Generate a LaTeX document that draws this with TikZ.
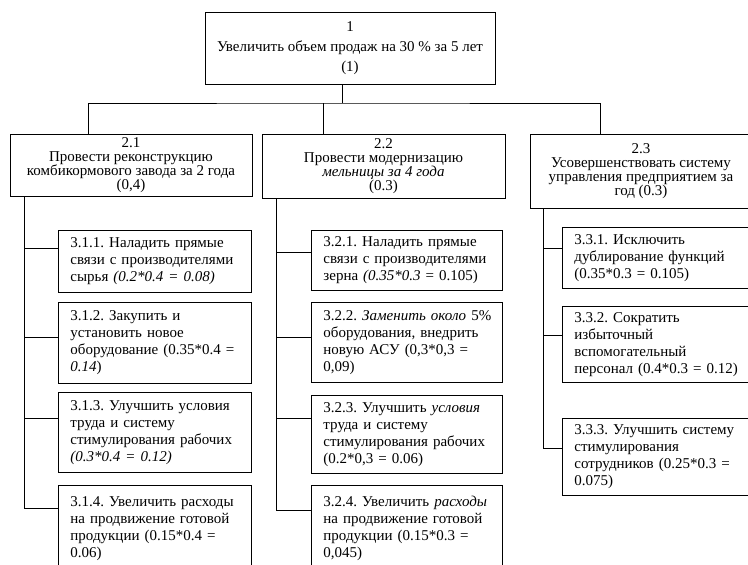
\documentclass[tikz,border=0pt]{standalone}
\usepackage{fontspec}
\setmainfont{Liberation Serif}
\usetikzlibrary{positioning}
\frenchspacing

\tikzset{
  goal/.style={draw, line width=0.9pt, align=center, inner sep=2pt,
               font=\fontsize{15}{14}\selectfont},
  task/.style={draw, line width=0.9pt, anchor=north west, align=left,
               inner xsep=0pt, inner ysep=2pt,
               execute at begin node={\leftskip=12pt},
               font=\fontsize{15}{17}\selectfont},
}

\begin{document}
\begin{tikzpicture}[x=1pt, y=-1pt, line width=0.6pt]

  \useasboundingbox (0,0) rectangle (748,565);

  % goals
  \node [goal, minimum width=290pt, minimum height=72pt, font=\fontsize{15}{20}\selectfont]
        (g1) at (350,48) {1\\Увеличить объем продаж на 30 \% за 5 лет\\(1)};

  \node [goal, minimum width=242pt, minimum height=62pt] (g21) at (131,165)
        {2.1\\Провести реконструкцию\\комбикормового завода за 2 года\\(0,4)};
  \node [goal, minimum width=243pt, minimum height=64pt] (g22) at (383.5,166)
        {2.2\\Провести модернизацию\\\textit{мельницы за 4 года}\\(0.3)};
  \node [goal, minimum width=222pt, minimum height=74pt] (g23) at (641,171)
        {2.3\\Усовершенствовать систему\\управления предприятием за\\год (0.3)};

  % tasks 3.1
  \node [task, text width=193pt, minimum height=62pt] (t311) at (58,230)
        {3.1.1. Наладить прямые\\связи с производителями\\сырья \textit{(0.2*0.4 = 0.08)}};
  \node [task, text width=193pt, minimum height=81pt] (t312) at (58,302)
        {3.1.2. Закупить и\\установить новое\\оборудование (0.35*0.4 =\\\textit{0.14})};
  \node [task, text width=193pt, minimum height=80pt] (t313) at (58,392)
        {3.1.3. Улучшить условия\\труда и систему\\стимулирования рабочих\\\textit{(0.3*0.4 = 0.12)}};
  \node [task, text width=193pt, minimum height=86pt] (t314) at (58,485)
        {3.1.4. Увеличить расходы\\на продвижение готовой\\продукции (0.15*0.4 =\\0.06)};

  % tasks 3.2
  \node [task, text width=191pt, minimum height=60pt] (t321) at (311,230)
        {3.2.1. Наладить прямые\\связи с производителями\\зерна \textit{(0.35*0.3} = 0.105)};
  \node [task, text width=191pt, minimum height=80pt] (t322) at (311,302)
        {3.2.2. \textit{Заменить около} 5\%\\оборудования, внедрить\\новую АСУ (0,3*0,3 =\\0,09)};
  \node [task, text width=191pt, minimum height=78pt] (t323) at (311,395)
        {3.2.3. Улучшить \textit{условия}\\труда и систему\\стимулирования рабочих\\(0.2*0,3 = 0.06)};
  \node [task, text width=191pt, minimum height=86pt] (t324) at (311,485)
        {3.2.4. Увеличить \textit{расходы}\\на продвижение готовой\\продукции (0.15*0.3 =\\0,045)};

  % tasks 3.3
  \node [task, text width=190pt, minimum height=61pt] (t331) at (562,227)
        {3.3.1. Исключить\\дублирование функций\\(0.35*0.3 = 0.105)};
  \node [task, text width=190pt, minimum height=76pt] (t332) at (562,306)
        {3.3.2. Сократить\\избыточный\\вспомогательный\\персонал (0.4*0.3 = 0.12)};
  \node [task, text width=190pt, minimum height=77pt] (t333) at (562,418)
        {3.3.3. Улучшить систему\\стимулирования\\сотрудников (0.25*0.3 =\\0.075)};

  % bus between levels 1 and 2
  \coordinate (bus) at (342,103);
  \coordinate (d21) at (88,103);
  \coordinate (d22) at (323,103);
  \coordinate (d23) at (600,103);
  \draw (g1.south -| bus) -- (bus);
  \draw (g21.north -| d21) |- (bus) -| (g23.north -| d23);
  \draw (d22) -- (g22.north -| d22);

  % spines to the tasks
  \coordinate (sp1) at (24,0);
  \coordinate (sp2) at (276,0);
  \coordinate (sp3) at (543,0);
  \foreach \t/\d in {t311/18, t312/35, t313/26, t314/23}
    \draw (g21.south -| sp1) |- ([yshift=-\d pt]\t.north west);
  \foreach \t/\d in {t321/22, t322/35, t323/23, t324/25}
    \draw (g22.south -| sp2) |- ([yshift=-\d pt]\t.north west);
  \foreach \t/\d in {t331/21, t332/29, t333/30}
    \draw (g23.south -| sp3) |- ([yshift=-\d pt]\t.north west);

\end{tikzpicture}
\end{document}
